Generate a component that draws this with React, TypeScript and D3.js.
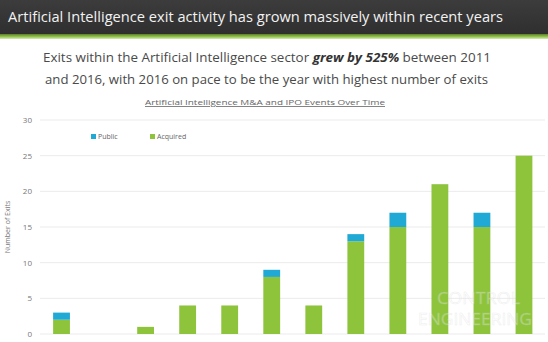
import React from "react";
import * as d3 from "d3";

const periods = ["P1", "P2", "P3", "P4", "P5", "P6", "P7", "P8", "P9", "P10", "P11", "P12"];
const acquired = [2, 0, 1, 4, 4, 8, 4, 13, 15, 21, 15, 25];
const publicIpo = [1, 0, 0, 0, 0, 1, 0, 1, 2, 0, 2, 0];
const yTicks = [0, 5, 10, 15, 20, 25, 30];
const seriesNames = ["Public", "Acquired"];

const W = 548;
const H = 342;
const GREEN = "#8dc43c";
const BLUE = "#1fa9d4";

export default function App() {
  const x = d3.scaleBand<string>().domain(periods).range([40.5, 545]).paddingInner(0.6).paddingOuter(0.3);
  const y = d3.scaleLinear().domain([0, 30]).range([334, 120]);
  const data = periods.map((p, i) => ({ p, a: acquired[i], u: publicIpo[i] }));

  return (
    <div style={{ position: "fixed", left: 0, top: 0, width: W, height: H, margin: 0 }}>
      <svg width={W} height={H} style={{ display: "block" }}>
        <defs>
          <linearGradient id="hdr" x1="0" y1="0" x2="0" y2="1">
            <stop offset="0" stopColor="#3c3c3c" />
            <stop offset="1" stopColor="#2f2f2f" />
          </linearGradient>
          <linearGradient id="grn" x1="0" y1="0" x2="0" y2="1">
            <stop offset="0" stopColor="#5d7d2a" />
            <stop offset="0.5" stopColor="#8cbf45" />
            <stop offset="1" stopColor="#d6eab8" />
          </linearGradient>
        </defs>
        <rect x={0} y={0} width={W} height={H} fill="#ffffff" />
        <rect x={0} y={0} width={W} height={34} fill="url(#hdr)" />
        <rect x={0} y={34} width={W} height={5} fill="url(#grn)" />
        <text x={8} y={22} fill="#f2f2f2" fontFamily="'Open Sans', sans-serif" fontSize={15} textLength={495} lengthAdjust="spacingAndGlyphs">
          Artificial Intelligence exit activity has grown massively within recent years
        </text>

        <text x={267} y={62} textAnchor="middle" fill="#4a4a4a" fontFamily="'Open Sans', sans-serif" fontSize={13} textLength={448} lengthAdjust="spacingAndGlyphs">
          Exits within the Artificial Intelligence sector{" "}
          <tspan fontWeight="bold" fontStyle="italic" fill="#333">grew by 525%</tspan> between 2011
        </text>
        <text x={266.5} y={84} textAnchor="middle" fill="#4a4a4a" fontFamily="'Open Sans', sans-serif" fontSize={13} textLength={443} lengthAdjust="spacingAndGlyphs">
          and 2016, with 2016 on pace to be the year with highest number of exits
        </text>

        <text x={265} y={105} textAnchor="middle" fill="#666" fontFamily="'Open Sans', sans-serif" fontSize={8} textDecoration="underline" textLength={240} lengthAdjust="spacingAndGlyphs">
          Artificial Intelligence M&amp;A and IPO Events Over Time
        </text>

        {yTicks.map((t) => (
          <g key={t}>
            <line x1={40} x2={545} y1={y(t)} y2={y(t)} stroke="#ebebeb" strokeWidth={1} />
            <text x={32} y={y(t) + 3} textAnchor="end" fill="#777" fontFamily="'Open Sans', sans-serif" fontSize={8}>
              {t}
            </text>
          </g>
        ))}
        <text transform={`translate(10,${y(15)}) rotate(-90)`} textAnchor="middle" fill="#777" fontFamily="'Open Sans', sans-serif" fontSize={7}>
          Number of Exits
        </text>

        {data.map((d) => (
          <g key={d.p}>
            {d.a > 0 && (
              <rect x={x(d.p)} width={x.bandwidth()} y={y(d.a)} height={y(0) - y(d.a)} fill={GREEN} />
            )}
            {d.u > 0 && (
              <rect x={x(d.p)} width={x.bandwidth()} y={y(d.a + d.u)} height={y(d.a) - y(d.a + d.u)} fill={BLUE} />
            )}
          </g>
        ))}

        <g fontFamily="'Open Sans', sans-serif" fontSize={7} fill="#666">
          <rect x={91} y={134} width={5} height={5} fill={BLUE} />
          <text x={98} y={139}>{seriesNames[0]}</text>
          <rect x={150} y={134} width={5} height={5} fill={GREEN} />
          <text x={157} y={139}>{seriesNames[1]}</text>
        </g>

        <g fontFamily="'Open Sans', sans-serif" fill="#ffffff" opacity={0.35} stroke="#cfcfcf" strokeWidth={0.5}>
          <text x={437} y={304} fontSize={17} textLength={83} lengthAdjust="spacingAndGlyphs">CONTROL</text>
          <text x={418} y={325} fontSize={17} textLength={114} lengthAdjust="spacingAndGlyphs">ENGINEERING</text>
        </g>
      </svg>
    </div>
  );
}
